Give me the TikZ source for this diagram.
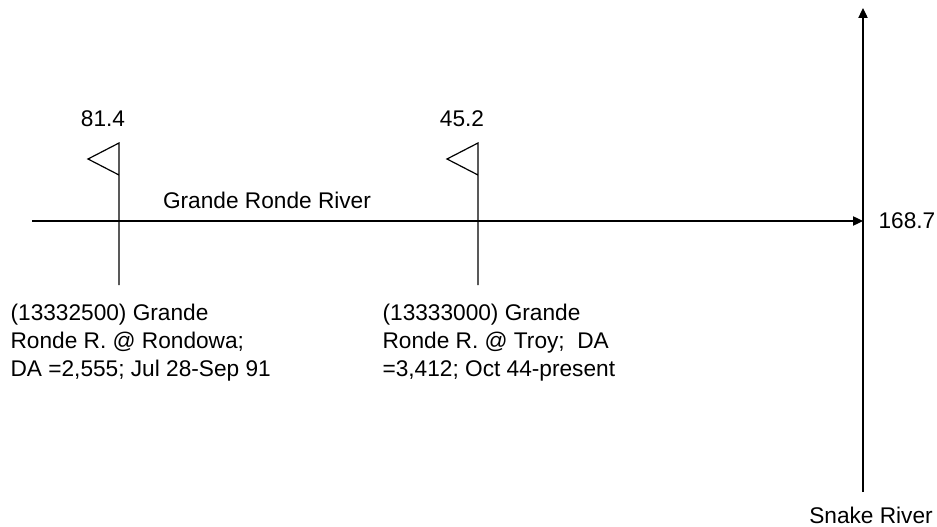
\documentclass[tikz,border=0pt]{standalone}
\usepackage{fontspec}
\setmainfont{Liberation Sans}
\usetikzlibrary{arrows.meta, positioning}
\tikzset{
  every picture/.style={line width=0.9pt},
  river/.style={-{Triangle[length=7.5pt, width=7pt]}},
  gage/.style={draw, line join=miter},
  mile/.style={font=\fontsize{17}{21}\selectfont, inner sep=0pt},
  station/.style={font=\fontsize{17}{21}\selectfont, align=left, anchor=north west, inner sep=0pt},
}

\begin{document}
\begin{tikzpicture}[x=0.75pt, y=-0.75pt]
  \useasboundingbox (0,0) rectangle (937,527);
  % Snake River, flowing up the page
  \coordinate (snake start) at (863,492);
  \coordinate (snake end) at (863,8);
  \coordinate (mouth) at (863,221);
  \node[mile] (snake) at (871,515) {Snake River};
  \draw[river] (snake start) -- (snake end);
  % Grande Ronde River into the Snake
  \coordinate (gr start) at (32,221);
  \draw[river] (gr start) -- (mouth);
  \node[mile, anchor=west] (confl) at (878,221) {168.7};
  \node[mile] (grname) at (267,200) {Grande Ronde River};
  % gages with river miles
  \foreach \x/\mi/\name in {119/81.4/rondowa, 478/45.2/troy}{
    \coordinate (\name foot) at (\x,285);
    \coordinate (\name top) at (\x,143);
    \coordinate (\name tip) at (\x-31,159);
    \coordinate (\name low) at (\x,175);
    \draw[gage] (\name foot) -- (\name top) -- (\name tip) -- (\name low);
    \node[mile] (\name mile) at (\x-16,118.5) {\mi};
  }
  \node[station] (rondowa text) at (10,303) {(13332500) Grande\\Ronde R. @ Rondowa;\\DA =2,555; Jul 28-Sep 91};
  \node[station] (troy text) at (382,303) {(13333000) Grande\\Ronde R. @ Troy;~ DA\\=3,412; Oct 44-present};
\end{tikzpicture}
\end{document}
